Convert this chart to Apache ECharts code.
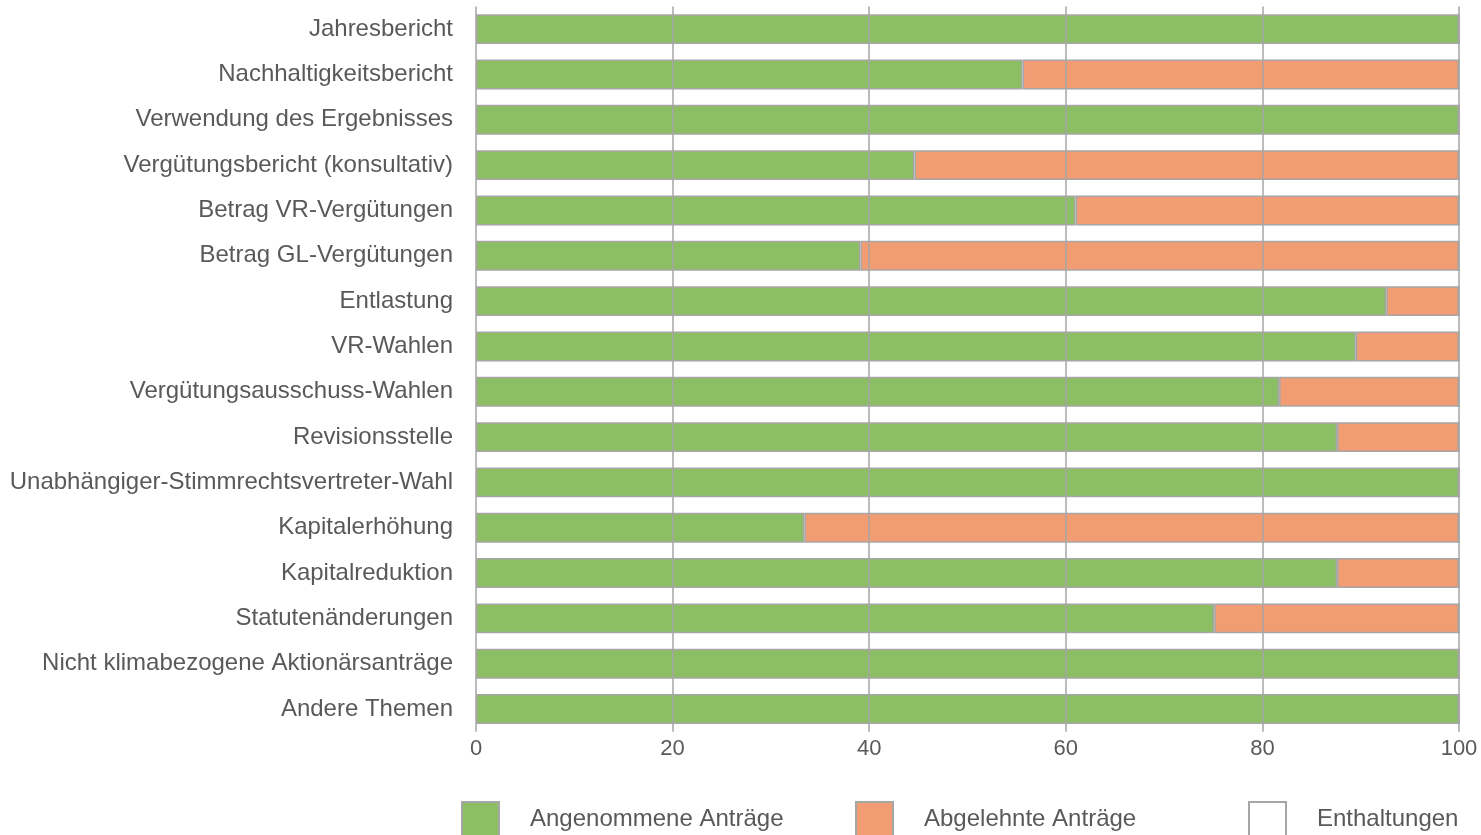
<!DOCTYPE html>
<html><head><meta charset="utf-8">
<script src="https://cdn.jsdelivr.net/npm/echarts@6/dist/echarts.min.js"></script>
<style>html,body{margin:0;padding:0;background:#fff}#c{width:1481px;height:835px}</style>
</head><body><div id="c"></div>
<script>
const categories = ["Jahresbericht","Nachhaltigkeitsbericht","Verwendung des Ergebnisses","Vergütungsbericht (konsultativ)","Betrag VR-Vergütungen","Betrag GL-Vergütungen","Entlastung","VR-Wahlen","Vergütungsausschuss-Wahlen","Revisionsstelle","Unabhängiger-Stimmrechtsvertreter-Wahl","Kapitalerhöhung","Kapitalreduktion","Statutenänderungen","Nicht klimabezogene Aktionärsanträge","Andere Themen"];
const angenommen = [100,55.6,100,44.6,61.0,39.1,92.6,89.5,81.7,87.6,100,33.4,87.6,75.1,100,100];
const abgelehnt  = [0,44.4,0,55.4,39.0,60.9,7.4,10.5,18.3,12.4,0,66.6,12.4,24.9,0,0];
const enthaltungen = [0,0,0,0,0,0,0,0,0,0,0,0,0,0,0,0];
const xTicks = [0,20,40,60,80,100];

const txt = '#595959', font = '"Liberation Sans", Arial, sans-serif';
const chart = echarts.init(document.getElementById('c'), null, {renderer:'canvas'});
const mkLegend = (name, left) => ({
  data:[name], left:left, top:801, padding:0, itemWidth:37, itemHeight:34, itemGap:0,
  icon:'rect', selectedMode:false,
  textStyle:{color:txt, fontSize:24, fontFamily:font, padding:[0,0,0,26]}
});
chart.setOption({
  animation:false,
  textStyle:{fontFamily:font},
  grid:{left:476, right:22, top:6.5, bottom:103.3, containLabel:false},
  legend:[mkLegend('Angenommene Anträge',461), mkLegend('Abgelehnte Anträge',855), mkLegend('Enthaltungen',1248)],
  xAxis:{type:'value', min:xTicks[0], max:xTicks[xTicks.length-1], interval:20, z:10,
    axisLine:{show:false}, axisTick:{show:false},
    splitLine:{show:true, lineStyle:{color:'#a6a6a6', width:1.5}},
    axisLabel:{color:txt, fontSize:22, fontFamily:font, margin:6}},
  yAxis:{type:'category', data:categories, inverse:true,
    axisLine:{show:false}, axisTick:{show:false},
    axisLabel:{color:txt, fontSize:24, fontFamily:font, margin:23}},
  series:[
    {name:'Angenommene Anträge', type:'bar', stack:'s', data:angenommen, barCategoryGap:'34%',
      itemStyle:{color:'#8cbf63', borderColor:'#a6a6a6', borderWidth:1.5}},
    {name:'Abgelehnte Anträge', type:'bar', stack:'s', data:abgelehnt,
      itemStyle:{color:'#f19c72', borderColor:'#a6a6a6', borderWidth:1.5}},
    {name:'Enthaltungen', type:'bar', stack:'s', data:enthaltungen,
      itemStyle:{color:'#ffffff', borderColor:'#a6a6a6', borderWidth:1}}
  ]
});
</script></body></html>
